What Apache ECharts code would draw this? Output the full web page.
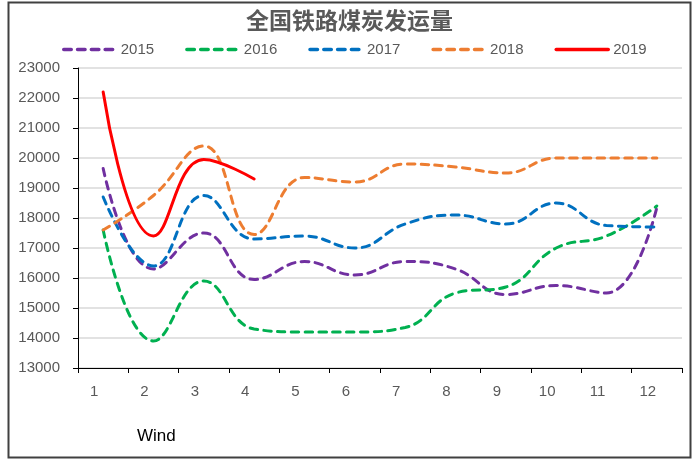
<!DOCTYPE html>
<html>
<head>
<meta charset="utf-8">
<script src="https://cdn.jsdelivr.net/npm/echarts@6/dist/echarts.min.js"></script>
<style>
  html, body { margin: 0; padding: 0; background: #fff; }
  #chart { width: 699px; height: 459px; }
</style>
</head>
<body>
<div id="chart"></div>
<script>
// 月份
const months = ['1', '2', '3', '4', '5', '6', '7', '8', '9', '10', '11', '12'];

// 各年发运量 (万吨, 读图估计)
const y2015 = [19650, 16300, 17500, 15950, 16550, 16100, 16550, 16300, 15450, 15750, 15500, 18350];
const y2016 = [17600, 13900, 15900, 14300, 14200, 14200, 14350, 15500, 15700, 17000, 17400, 18400];
const y2017 = [18700, 16400, 18750, 17300, 17400, 17000, 17800, 18100, 17800, 18500, 17750, 17700];
const y2018 = [17600, 18750, 20400, 17450, 19350, 19200, 19800, 19700, 19500, 20000, 20000, 20000];
const y2019 = [22200, 17400, 19950, 19300];

const seriesNames = ['2015', '2016', '2017', '2018', '2019'];
const seriesColors = ['#7030A0', '#00B050', '#0070C0', '#ED7D31', '#FF0000'];

const FONT = '"Liberation Sans", Arial, sans-serif';
const dash = [7.5, 6.3];

function makeLine(name, data, color, dashed) {
  return {
    name,
    type: 'line',
    data,
    smooth: 0.45,
    symbol: 'none',
    lineStyle: {
      color,
      width: 3,
      type: dashed ? dash : 'solid',
      cap: 'round'
    },
    itemStyle: { color }
  };
}

const chart = echarts.init(document.getElementById('chart'));

const option = {
  backgroundColor: '#fff',
  animation: false,
  title: {
    text: '全国铁路煤炭发运量',
    left: 'center',
    top: 9,
    padding: 0,
    textStyle: {
      fontFamily: '"Noto Sans CJK SC", sans-serif',
      fontSize: 23,
      fontWeight: 'bold',
      color: '#595959'
    }
  },
  legend: {
    data: seriesNames,
    left: 62,
    top: 42,
    padding: 0,
    itemWidth: 52,
    itemHeight: 14,
    itemGap: 31,
    itemStyle: { opacity: 0 },
    lineStyle: { width: 3.5, cap: 'round' },
    textStyle: { fontFamily: FONT, fontSize: 15, color: '#595959' }
  },
  grid: {
    left: 78,
    right: 17,
    top: 68,
    bottom: 91
  },
  xAxis: {
    type: 'category',
    data: months,
    boundaryGap: true,
    axisLine: { lineStyle: { color: '#000', width: 1 } },
    axisTick: { show: true, length: 5, lineStyle: { color: '#000' } },
    axisLabel: {
      fontFamily: FONT,
      fontSize: 15,
      color: '#595959',
      margin: 16,
      padding: [0, 18, 0, 0]
    },
    splitLine: { show: false }
  },
  yAxis: {
    type: 'value',
    min: 13000,
    max: 23000,
    interval: 1000,
    axisLine: { show: true, lineStyle: { color: '#000', width: 1 } },
    axisTick: { show: true, length: 5, lineStyle: { color: '#000' } },
    axisLabel: {
      fontFamily: FONT,
      fontSize: 15,
      color: '#595959',
      margin: 18,
      formatter: (v) => String(v)
    },
    splitLine: { lineStyle: { color: '#D9D9D9', width: 1.5 } }
  },
  graphic: [
    {
      type: 'rect',
      shape: { x: 8.5, y: 2.5, width: 682, height: 455 },
      style: { fill: 'none', stroke: '#404040', lineWidth: 2 },
      silent: true
    },
    {
      type: 'text',
      left: 137,
      top: 428,
      style: {
        text: 'Wind',
        fontFamily: FONT,
        fontSize: 17,
        fill: '#000'
      }
    }
  ],
  series: [
    makeLine('2015', y2015, seriesColors[0], true),
    makeLine('2016', y2016, seriesColors[1], true),
    makeLine('2017', y2017, seriesColors[2], true),
    makeLine('2018', y2018, seriesColors[3], true),
    makeLine('2019', y2019, seriesColors[4], false)
  ]
};

chart.setOption(option);
</script>
</body>
</html>
